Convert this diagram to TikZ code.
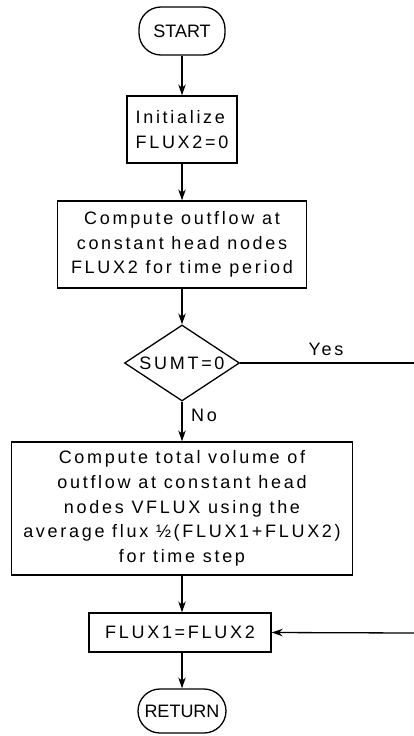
\documentclass[tikz,border=0pt]{standalone}
\usepackage{fontspec}
\setmainfont{Liberation Sans}[LetterSpace=15]
\newfontfamily\termfont{Liberation Sans}
\usetikzlibrary{shapes.geometric,arrows.meta}

\begin{document}
\begin{tikzpicture}[x=1pt, y=-1pt, line width=1.3pt,
  every node/.style={font=\fontsize{18}{24.7}\selectfont},
  box/.style={rectangle, draw, inner sep=0pt, align=center},
  term/.style={rectangle, draw, rounded corners=22pt, inner sep=0pt, font=\termfont\fontsize{18}{20}\selectfont},
  test/.style={diamond, draw, inner sep=0pt, aspect=1.5},
  arr/.style={-{Stealth[length=11pt,width=7.5pt]}}]
  \useasboundingbox (0,0) rectangle (414,736);
  % Nodes
  \node (start) [term, minimum width=86pt, minimum height=48pt] at (182, 31) {START};
  \node (init) [box, align=left, minimum width=110pt, minimum height=67pt] at (182, 129.5) {Initialize\\FLUX2=0};
  \node (outflow) [box, minimum width=249pt, minimum height=87pt] at (182, 244.5) {Compute outflow at\\constant head nodes\\FLUX2 for time period};
  \node (sumt) [test, minimum width=115pt, minimum height=76pt] at (182, 363) {SUMT=0};
  \node (volume) [box, minimum width=341pt, minimum height=133pt] at (182, 508.5) {Compute total volume of\\outflow at constant head\\nodes VFLUX using the\\average flux ½(FLUX1+FLUX2)\\for time step};
  \node (flux) [box, minimum width=182pt, minimum height=39pt] at (180, 632.5) {FLUX1=FLUX2};
  \node (return) [term, minimum width=88pt, minimum height=44pt] at (182, 711) {RETURN};
  \node (yes) at (326, 349) {Yes};
  \node (no) at (204, 415) {No};
  \coordinate (yes-end) at (414, 363);
  \coordinate (back-in) at (414, 633);
  % Arrow
  \draw[arr] (start) -- (init);
  \draw[arr] (init) -- (outflow);
  \draw[arr] (outflow) -- (sumt);
  \draw[arr] (sumt) -- (volume);
  \draw[arr] (volume.south) -- (volume.south |- flux.north);
  \draw[arr] (flux.south -| return) -- (return);
  \draw (sumt.east) -- (yes-end);
  \draw[arr] (back-in) -- (flux.east);
\end{tikzpicture}
\end{document}
